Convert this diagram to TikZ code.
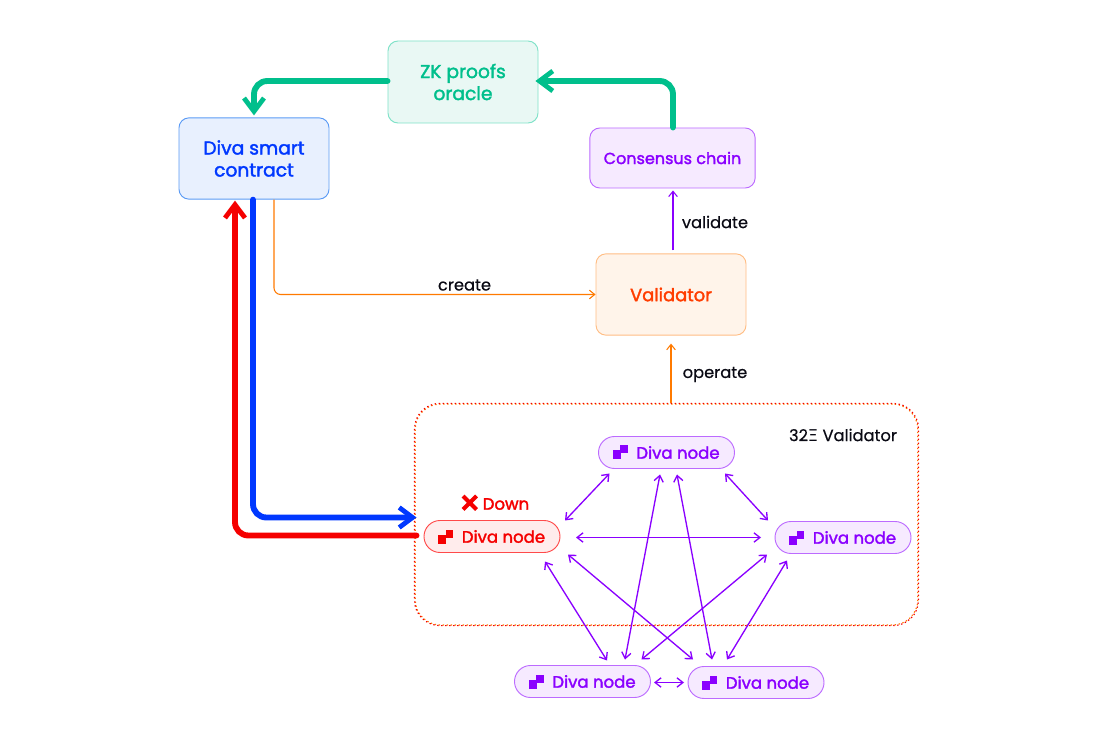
\documentclass[tikz,border=0pt]{standalone}
\usepackage{fontspec}
\newfontfamily\medf{Poppins}[RawFeature={embolden=1.9}]
\newfontfamily\plainf{Poppins}[RawFeature={embolden=0.4}]
\newfontfamily\greekf{DejaVu Sans}
\usetikzlibrary{arrows.meta,calc}
\definecolor{cpurple}{HTML}{8A00FF}
\definecolor{cpfill}{HTML}{F6EAFF}
\definecolor{cpline}{HTML}{BC6BFF}
\definecolor{cgreen}{HTML}{00BF8C}
\definecolor{cgfill}{HTML}{E9F8F4}
\definecolor{cgline}{HTML}{7FE2C8}
\definecolor{cblue}{HTML}{0038FF}
\definecolor{cbfill}{HTML}{E8F0FE}
\definecolor{cbline}{HTML}{5B9BF5}
\definecolor{corange}{HTML}{FF7A00}
\definecolor{cofill}{HTML}{FFF4EA}
\definecolor{coline}{HTML}{FFBE85}
\definecolor{cvtext}{HTML}{FF3D00}
\definecolor{cred}{HTML}{F50000}
\definecolor{crfill}{HTML}{FFECEC}
\definecolor{crline}{HTML}{FF4A4A}
\definecolor{cink}{HTML}{0A0A14}
\tikzset{
  x=0.75pt,y=-0.75pt,
  box/.style={draw,line width=0.7pt,rounded corners=7.5pt,align=center,inner sep=0pt,font=\medf\fontsize{14}{16.5}\selectfont},
  zkbox/.style={box,draw=cgline,fill=cgfill,text=cgreen,minimum width=112.5pt,minimum height=61.5pt},
  smartbox/.style={box,draw=cbline,fill=cbfill,text=cblue,minimum width=112.5pt,minimum height=61pt},
  chainbox/.style={box,draw=cpline,fill=cpfill,text=cpurple,minimum width=124pt,minimum height=45pt,font=\medf\fontsize{12}{14}\selectfont},
  valbox/.style={box,draw=coline,fill=cofill,text=cvtext,minimum width=112.5pt,minimum height=61pt,font=\medf\fontsize{13.4}{16}\selectfont},
  pill/.style={draw,line width=0.7pt,rounded corners=12pt,inner sep=0pt,minimum width=102pt,minimum height=24pt,font=\medf\fontsize{12.4}{14}\selectfont},
  purplepill/.style={pill,draw=cpline,fill=cpfill,text=cpurple},
  redpill/.style={pill,draw=crline,fill=crfill,text=cred},
  lab/.style={inner sep=0pt,text=cink,font=\plainf\fontsize{12.2}{14}\selectfont},
  thin link/.style={line width=1pt,color=cpurple,{Straight Barb[length=4.5pt,width=7pt,line width=1pt]}-{Straight Barb[length=4.5pt,width=7pt,line width=1pt]}},
  single link/.style={line width=0.8pt,-{Straight Barb[length=4pt,width=6.5pt,line width=0.8pt]}},
  fat link/.style={line width=4.4pt,rounded corners=10pt,line cap=round,-{Straight Barb[length=10pt,width=15pt,line width=3.6pt]}},
}
\newcommand{\divaicon}[2]{%
  \fill[#2] ([shift={(-54,-2)}]#1.center) rectangle ([shift={(-46,7)}]#1.center);
  \fill[#2] ([shift={(-46.5,-7)}]#1.center) rectangle ([shift={(-39,1)}]#1.center);
}
\newcommand{\divatext}{\hspace{17.25pt}Diva node}
\begin{document}
\begin{tikzpicture}
\useasboundingbox (0,0) rectangle (1100,741);
\fill[white] (0,0) rectangle (1100,741);

% dotted frame
\node[draw=corange,line width=0.9pt,dash pattern=on 1pt off 2pt,rounded corners=19pt,minimum width=377pt,minimum height=165.75pt,inner sep=0pt] (frame) at (666.5,514.5) {};
\draw[draw=cred,line width=0.9pt,dash pattern=on 1pt off 2pt,dash phase=1.5pt,rounded corners=19pt] (frame.south west) rectangle (frame.north east);

% boxes
\node[zkbox] (zk) at (463,82) {ZK proofs\\oracle};
\node[smartbox] (smart) at (254,158.5) {Diva smart\\contract};
\node[chainbox] (chain) at (672.5,158) {Consensus chain};
\node[valbox] (val) at (671,294.5) {Validator};

% pills
\node[purplepill] (top) at (666.5,452.5) {\divatext};
\node[redpill] (left) at (492,536.5) {\divatext};
\node[purplepill] (right) at (843,537.5) {\divatext};
\node[purplepill] (bl) at (582.5,681.5) {\divatext};
\node[purplepill] (br) at (756,682.5) {\divatext};
\divaicon{top}{cpurple}
\divaicon{left}{cred}
\divaicon{right}{cpurple}
\divaicon{bl}{cpurple}
\divaicon{br}{cpurple}

% labels
\node[lab] (create) at (464.5,285) {create};
\node[lab] (validate) at (715,222) {validate};
\node[lab] (operate) at (715,374.5) {operate};
\node[lab] (vlabel) at (843,435) {32{\greekf\char"039E} Validator};
\node[inner sep=0pt,text=cred,font=\medf\fontsize{12.4}{14}\selectfont] (down) at (506,504) {Down};
\draw[cred,line width=3pt] (463,496) -- (476.5,509.5) (476.5,496) -- (463,509.5);

% fat arrows
\draw[fat link,cgreen] ([shift={(0.5,0)}]chain.north) |- ([shift={(-3,-1)}]zk.east);
\draw[fat link,cgreen] ([shift={(0,-1)}]zk.west) -| ([shift={(0,-2)}]smart.north);
\draw[fat link,cred] ([shift={(-7,-1)}]left.west) -| ([shift={(-19,1)}]smart.south);
\draw[fat link,cblue] ([shift={(-1,0)}]smart.south) |- ([shift={(-7,-19)}]left.west);

% thin links
\draw[single link,corange,rounded corners=5pt] ([shift={(20,0)}]smart.south) |- (val.west);
\draw[single link,corange] (frame.north -| val.south) -- ([shift={(0,8)}]val.south);
\draw[single link,cpurple] ([shift={(2,-3)}]val.north) -- ([shift={(0.5,2)}]chain.south);

% mesh
\draw[thin link] ([shift={(73,-16)}]left.center) -- ([shift={(-57,21)}]top.center);
\draw[thin link] ([shift={(84,1)}]left.center) -- ([shift={(-82,0)}]right.center);
\draw[thin link] ([shift={(58.5,21)}]top.center) -- ([shift={(-75,-17)}]right.center);
\draw[thin link] ([shift={(-6.5,22)}]top.center) -- ([shift={(42.5,-22)}]bl.center);
\draw[thin link] ([shift={(10.5,22)}]top.center) -- ([shift={(-44,-23)}]br.center);
\draw[thin link] ([shift={(53,25)}]left.center) -- ([shift={(24.5,-21)}]bl.center);
\draw[thin link] ([shift={(76,18)}]left.center) -- ([shift={(-63,-23)}]br.center);
\draw[thin link] ([shift={(-76,17)}]right.center) -- ([shift={(59,-22)}]bl.center);
\draw[thin link] ([shift={(-56,23)}]right.center) -- ([shift={(-29,-23)}]br.center);
\draw[thin link] ([shift={(71.5,1)}]bl.center) -- ([shift={(-72,0)}]br.center);
\end{tikzpicture}
\end{document}
